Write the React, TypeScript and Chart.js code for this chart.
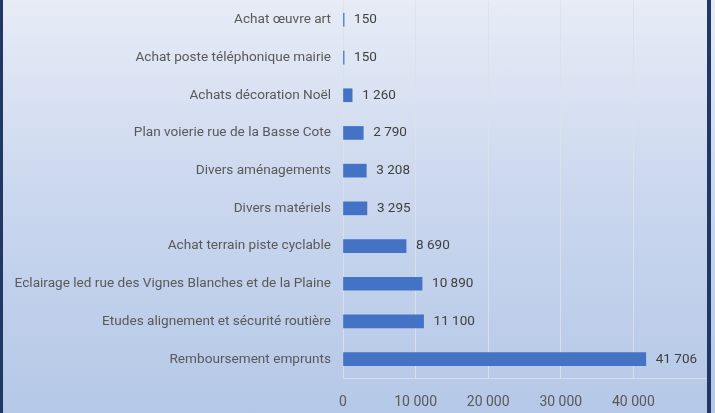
import React, { useEffect, useRef } from "react";
import { Chart, registerables } from "chart.js";

Chart.register(...registerables);

const categories = [
  "Achat œuvre art",
  "Achat poste téléphonique mairie",
  "Achats décoration Noël",
  "Plan voierie rue de la Basse Cote",
  "Divers aménagements",
  "Divers matériels",
  "Achat terrain piste cyclable",
  "Eclairage led rue des Vignes Blanches et de la Plaine",
  "Etudes alignement et sécurité routière",
  "Remboursement emprunts",
];
const values = [150, 150, 1260, 2790, 3208, 3295, 8690, 10890, 11100, 41706];
const xTickValues = [0, 10000, 20000, 30000, 40000];

const FONT = "'Roboto', sans-serif";

const fmt = (v: number) => String(v).replace(/\B(?=(\d{3})+(?!\d))/g, " ");

const labelPlugin = {
  id: "valueLabels",
  afterDatasetsDraw(chart: any) {
    const ctx = chart.ctx;
    const meta = chart.getDatasetMeta(0);
    ctx.save();
    ctx.font = `13.5px ${FONT}`;
    ctx.fillStyle = "#404040";
    ctx.textAlign = "left";
    ctx.textBaseline = "middle";
    meta.data.forEach((el: any, i: number) => {
      ctx.fillText(fmt(values[i]), el.x + 10, el.y);
    });
    ctx.restore();
  },
};

export default function App() {
  const ref = useRef<HTMLCanvasElement>(null);
  useEffect(() => {
    document.body.style.margin = "0";
    const chart = new Chart(ref.current!, {
      type: "bar",
      data: {
        labels: categories,
        datasets: [
          {
            data: values,
            backgroundColor: "#4472c4",
            barThickness: 13,
          },
        ],
      },
      options: {
        indexAxis: "y",
        animation: false,
        responsive: false,
        maintainAspectRatio: false,
        layout: { padding: { left: 3, right: 9, top: 1, bottom: 0 } },
        plugins: { legend: { display: false }, tooltip: { enabled: false } },
        scales: {
          x: {
            min: 0,
            max: 50000,
            afterBuildTicks: (s: any) => {
              s.ticks = xTickValues.map((v) => ({ value: v }));
            },
            afterFit: (s: any) => {
              s.height = 35;
              s.paddingLeft = 0;
              s.paddingRight = 0;
            },
            ticks: {
              color: "#595959",
              font: { family: FONT, size: 14 },
              padding: 16,
              callback: (v: any) => fmt(Number(v)),
            },
            grid: { color: "rgba(220,224,232,0.9)", drawTicks: false },
            border: { display: true, color: "rgba(220,224,232,0.9)" },
          },
          y: {
            afterFit: (s: any) => {
              s.width = 340;
              s.paddingTop = 0;
              s.paddingBottom = 0;
            },
            ticks: {
              color: "#595959",
              font: { family: FONT, size: 13.6 },
              padding: 12,
            },
            grid: { display: false, drawTicks: false },
            border: { display: false },
          },
        },
      },
      plugins: [labelPlugin],
    });
    return () => chart.destroy();
  }, []);

  return (
    <div
      style={{
        position: "relative",
        width: 715,
        height: 413,
        background: "linear-gradient(to bottom, #e7ecf6 0%, #c9d6ee 50%, #b5c8e7 100%)",
        overflow: "hidden",
      }}
    >
      <canvas ref={ref} width={715} height={413} style={{ position: "absolute", left: 0, top: 0 }} />
      <div style={{ position: "absolute", left: 0, top: 0, width: 3, height: 413, background: "#1f3864" }} />
      <div style={{ position: "absolute", left: 707, top: 0, width: 4, height: 413, background: "#1f3864" }} />
    </div>
  );
}
